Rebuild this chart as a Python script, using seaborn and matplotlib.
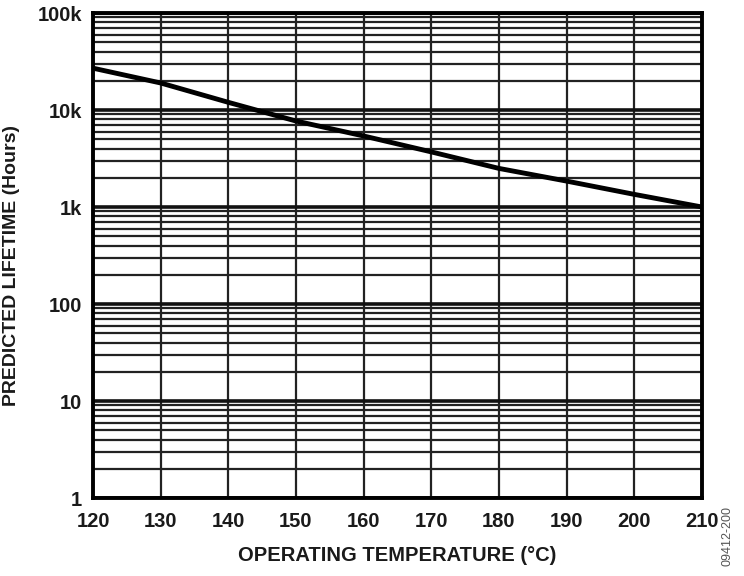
import matplotlib
matplotlib.use("Agg")
import matplotlib.pyplot as plt
import matplotlib.ticker as mticker
import seaborn as sns
import numpy as np

# data
temps = [120, 130, 140, 150, 160, 170, 180, 190, 200, 210]
lifetime = [27000, 19000, 12000, 7700, 5400, 3700, 2500, 1850, 1350, 1000]

y_ticks = [1, 10, 100, 1000, 10000, 100000]
y_tick_labels = ["1", "10", "100", "1k", "10k", "100k"]
x_ticks = [120, 130, 140, 150, 160, 170, 180, 190, 200, 210]

sns.set_style("white")
plt.rcParams["font.family"] = ["Liberation Sans", "DejaVu Sans"]

fig = plt.figure(figsize=(7.44, 5.76), dpi=100)
ax = fig.add_axes([0.125, 0.1354, 0.8185, 0.842])

sns.lineplot(x=temps, y=lifetime, ax=ax, color="black", linewidth=3.5, zorder=5)

ax.set_yscale("log")
ax.set_ylim(1, 100000)
ax.set_xlim(120, 210)
ax.set_yticks(y_ticks)
ax.set_yticklabels(y_tick_labels)
ax.yaxis.set_minor_locator(mticker.LogLocator(base=10, subs=np.arange(2, 10)))
ax.yaxis.set_minor_formatter(mticker.NullFormatter())
ax.set_xticks(x_ticks)

ax.grid(True, which="major", axis="y", color="#111111", linewidth=2.6)
ax.grid(True, which="minor", axis="y", color="#222222", linewidth=1.6)
ax.grid(True, which="major", axis="x", color="#222222", linewidth=1.6)

for s in ax.spines.values():
    s.set_visible(True)
    s.set_color("black")
    s.set_linewidth(2.8)
    s.set_zorder(6)

ax.tick_params(axis="both", which="both", length=0, labelsize=14.5, colors="#1a1a1a")
ax.tick_params(axis="y", pad=8)
ax.tick_params(axis="x", pad=10)
for lbl in ax.get_xticklabels() + ax.get_yticklabels():
    lbl.set_fontweight("bold")

ax.set_xlabel("OPERATING TEMPERATURE (°C)", fontsize=14.5, fontweight="bold",
              color="#1a1a1a", labelpad=11)
ax.set_ylabel("PREDICTED LIFETIME (Hours)", fontsize=14, fontweight="bold",
              color="#1a1a1a")
ax.yaxis.set_label_coords(-0.12, 0.48)

fig.text(0.978, 0.018, "09412-200", rotation=90, fontsize=9, color="#555555",
         ha="center", va="bottom")

fig.savefig("out.png", dpi=100)
